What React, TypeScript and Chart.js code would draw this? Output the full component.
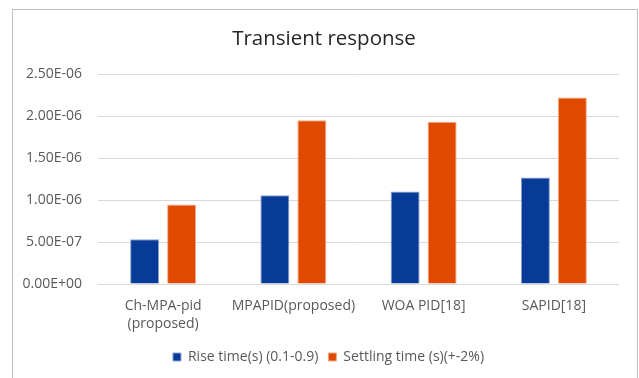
import React, { useEffect, useRef } from "react";
import { Chart, registerables } from "chart.js";

Chart.register(...registerables);

const categories: (string | string[])[] = [
  ["Ch-MPA-pid", "(proposed)"],
  "MPAPID(proposed)",
  "WOA PID[18]",
  "SAPID[18]",
];
const riseTime = [5.32e-7, 1.056e-6, 1.1e-6, 1.267e-6];
const settlingTime = [9.45e-7, 1.949e-6, 1.933e-6, 2.219e-6];
const seriesNames = ["Rise time(s) (0.1-0.9)", "Settling time (s)(+-2%)"];
const chartTitle = "Transient response";

const FONT = "'Open Sans', 'Liberation Sans', sans-serif";
const TEXT = "#595959";

// Excel-style scientific notation, e.g. 2.50E-06
function sci(v: number): string {
  if (v === 0) return "0.00E+00";
  const exp = Math.floor(Math.log10(Math.abs(v)) + 1e-9);
  const mant = v / Math.pow(10, exp);
  const sign = exp < 0 ? "-" : "+";
  const e = String(Math.abs(exp)).padStart(2, "0");
  return `${mant.toFixed(2)}E${sign}${e}`;
}

// White background, thin grey frame and the centred chart title;
// the legend row is centred on the whole frame rather than the plot.
const framePlugin = {
  id: "frame",
  afterLayout(chart: any) {
    if (chart.legend) chart.legend.left += 38;
  },
  beforeDraw(chart: any) {
    const { ctx, width, height } = chart;
    ctx.save();
    ctx.fillStyle = "#ffffff";
    ctx.fillRect(0, 0, width, height);
    ctx.strokeStyle = "#BFBFBF";
    ctx.lineWidth = 1;
    ctx.strokeRect(12.5, 9.5, 625, height + 10);
    ctx.fillStyle = "#262626";
    ctx.font = `20.5px ${FONT}`;
    ctx.textAlign = "center";
    ctx.textBaseline = "middle";
    ctx.fillText(chartTitle, 324, 39);
    ctx.restore();
  },
};

export default function App() {
  const ref = useRef<HTMLCanvasElement | null>(null);

  useEffect(() => {
    document.body.style.margin = "0";
    const canvas = ref.current;
    if (!canvas) return;
    const chart = new Chart(canvas, {
      type: "bar",
      data: {
        labels: categories,
        datasets: [
          {
            label: seriesNames[0],
            data: riseTime,
            backgroundColor: "#083A97",
            borderColor: "#8AA2D3",
            borderWidth: 1,
            categoryPercentage: 0.568,
            barPercentage: 0.784,
          },
          {
            label: seriesNames[1],
            data: settlingTime,
            backgroundColor: "#DF4900",
            borderColor: "#F3A987",
            borderWidth: 1,
            categoryPercentage: 0.568,
            barPercentage: 0.784,
          },
        ],
      },
      options: {
        responsive: false,
        animation: false,
        layout: { padding: { left: 0, right: 20, top: 74, bottom: 4 } },
        plugins: {
          title: { display: false },
          legend: {
            position: "bottom",
            labels: {
              color: TEXT,
              font: { family: FONT, size: 14 },
              boxWidth: 8,
              boxHeight: 8,
              padding: 10,
            },
          },
          tooltip: { enabled: false },
        },
        scales: {
          x: {
            grid: { display: false },
            border: { display: false },
            ticks: {
              color: TEXT,
              font: { family: FONT, size: 14, lineHeight: 1.3 },
              padding: 5,
              maxRotation: 0,
              autoSkip: false,
            },
            afterFit: (s: any) => {
              s.height = 56;
            },
          },
          y: {
            min: 0,
            max: 2.5e-6,
            grid: { color: "#D9D9D9", drawTicks: false, lineWidth: 1 },
            border: { display: false },
            ticks: {
              stepSize: 5e-7,
              color: TEXT,
              font: { family: FONT, size: 14 },
              padding: 16,
              callback: (v: any) => sci(Number(v)),
            },
            afterFit: (s: any) => {
              s.width = 98;
            },
          },
        },
      },
      plugins: [framePlugin],
    });
    return () => chart.destroy();
  }, []);

  return <canvas ref={ref} width={639} height={378} style={{ display: "block" }} />;
}
